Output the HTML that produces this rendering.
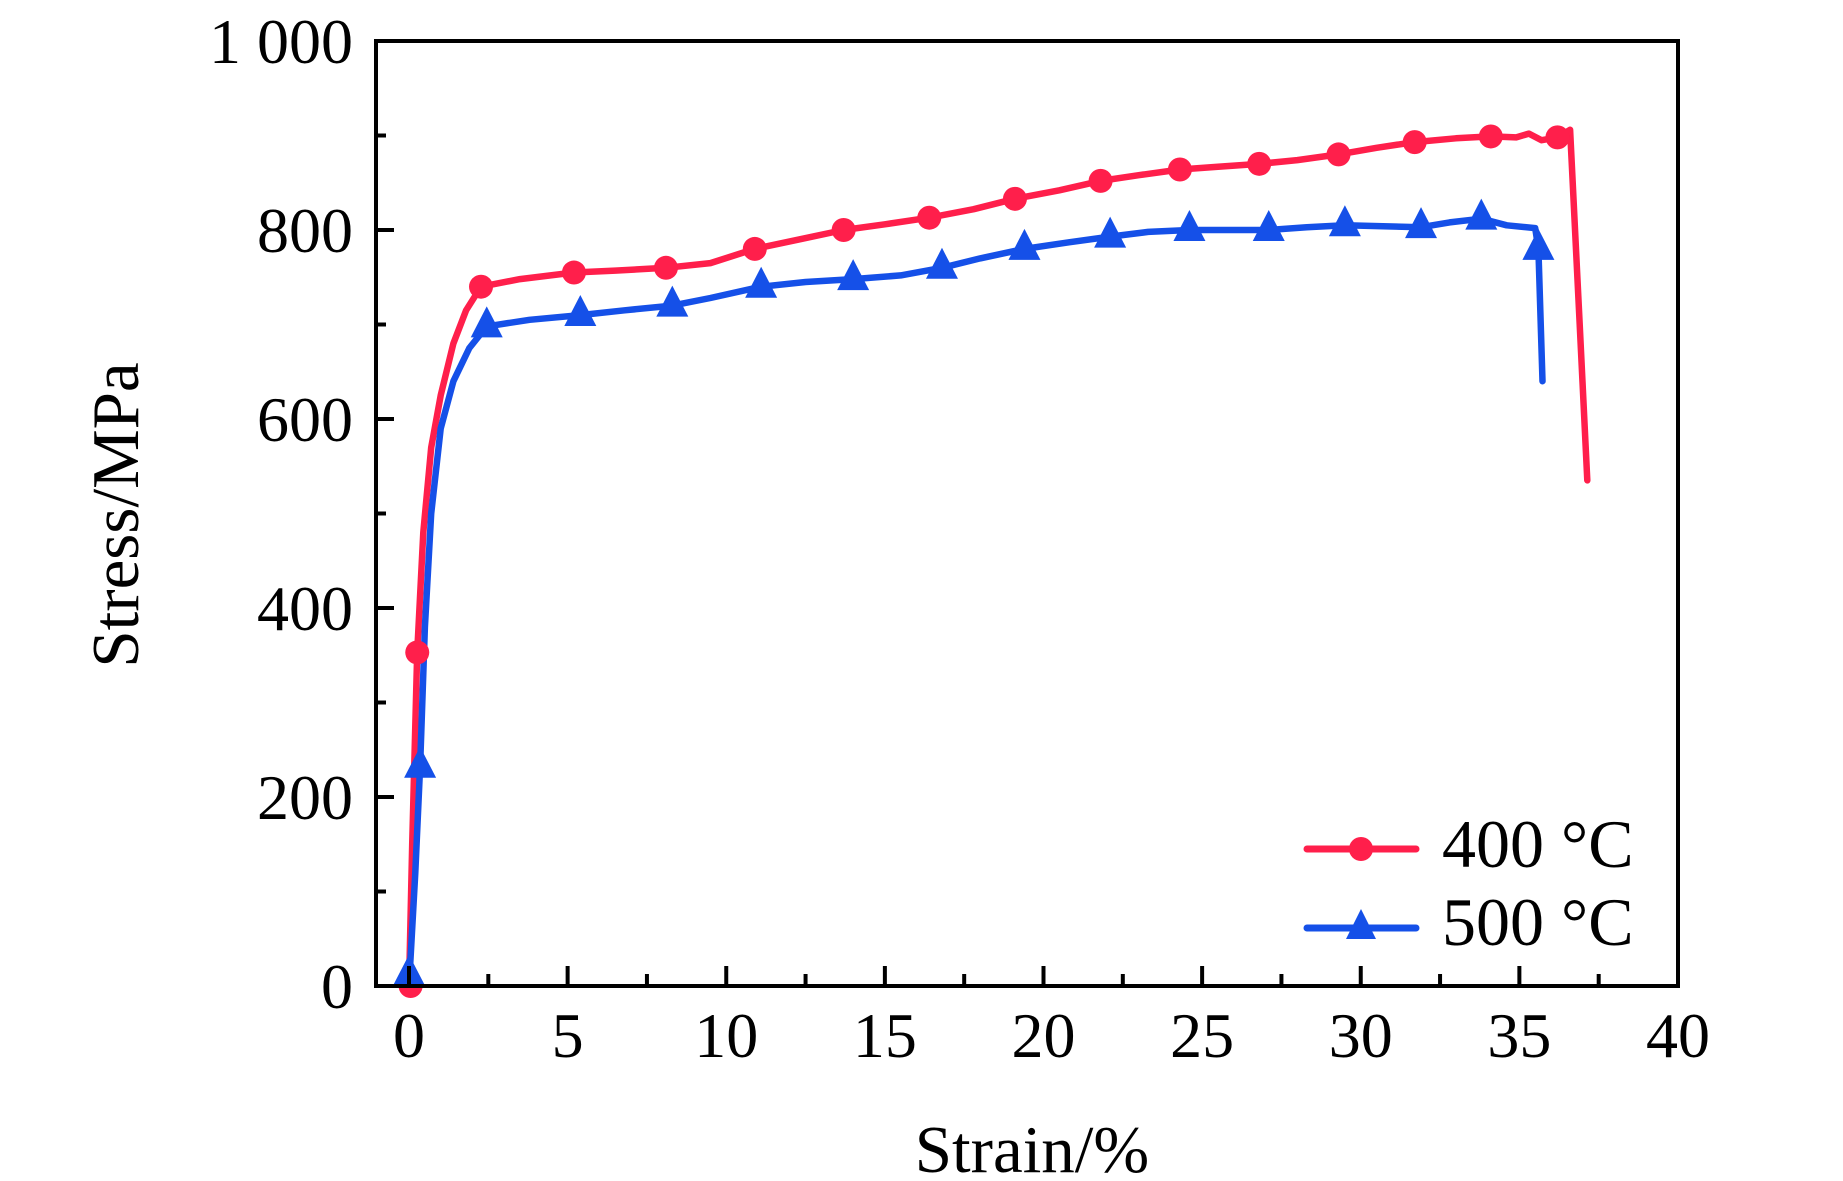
<!DOCTYPE html>
<html><head><meta charset="utf-8"><style>
html,body{margin:0;padding:0;background:#fff;}
svg{display:block;font-family:"Liberation Serif",serif;}
</style></head><body>
<svg id="chart" width="1843" height="1181" viewBox="0 0 1843 1181" xmlns="http://www.w3.org/2000/svg">
<g id="plot"></g>
</svg>
<script>
const xTicks = [0,5,10,15,20,25,30,35,40];
const yTicks = [0,200,400,600,800,1000];
const yTickLabels = ["0","200","400","600","800","1 000"];
const redX = [0,0.1,0.26,0.45,0.7,1.0,1.4,1.8,2.27,3.5,5.2,6.5,8.1,9.5,10.9,12.3,13.7,15.0,16.4,17.8,19.1,20.5,21.8,23.0,24.3,25.5,26.8,28.0,29.3,30.5,31.7,33.0,34.1,34.9,35.3,35.7,36.2,36.6,36.9,37.14];
const redY = [0,150,353,480,570,625,680,715,740,748,755,757,760,765,780,790,800,806,813,822,833,842,852,858,864,867,870,874,880,887,893,897,899,898,902,895,898,906,700,535];
const redMX = [0.05,0.26,2.27,5.2,8.1,10.9,13.7,16.4,19.1,21.8,24.3,26.8,29.3,31.7,34.1,36.2];
const redMY = [0,353,740,755,760,780,800,813,833,852,864,870,880,893,899,898];
const blueX = [0,0.2,0.35,0.5,0.7,1.0,1.4,1.9,2.45,3.8,5.4,6.8,8.3,9.5,11.1,12.5,14.0,15.5,16.8,18.0,19.4,20.8,22.1,23.3,24.6,25.8,27.1,28.3,29.5,30.7,31.9,32.8,33.8,34.6,35.5,35.6,35.73];
const blueY = [0,120,232,380,500,590,640,675,698,705,710,715,720,728,740,745,748,752,760,770,780,787,793,798,800,800,800,803,805,804,803,808,812,805,802,780,640];
const blueMX = [0.0,0.35,2.45,5.4,8.3,11.1,14.0,16.8,19.4,22.1,24.6,27.1,29.5,31.9,33.8,35.6];
const blueMY = [12,232,698,710,720,740,748,760,780,793,800,800,805,803,812,780];

const X0=376, X1=1678, Y0=986, Y1=41;
const xZero=409;
function sx(v){return xZero+(v/40)*(X1-xZero);}
function sy(v){return Y0-(v/1000)*(Y0-Y1);}
const NS="http://www.w3.org/2000/svg";
const g=document.getElementById('plot');
function mk(tag,attrs,parent){const e=document.createElementNS(NS,tag);for(const k in attrs)e.setAttribute(k,attrs[k]);(parent||g).appendChild(e);return e;}

function line(xs,ys,color,name){
  let d=xs.map((x,i)=>(i?'L':'M')+sx(x).toFixed(1)+','+sy(ys[i]).toFixed(1)).join(' ');
  const p=mk('path',{d:d,fill:'none',stroke:color,'stroke-width':6.5,'stroke-linejoin':'round','stroke-linecap':'round'});
  
  
}
line(redX,redY,'#FF1F4B','series-400c-line');
line(blueX,blueY,'#1550E8','series-500c-line');
redMX.forEach((x,i)=>{
  const c=mk('circle',{cx:sx(x),cy:sy(redMY[i]),r:12,fill:'#FF1F4B'});
  
  
});
blueMX.forEach((x,i)=>{
  const cx=sx(x),cy=sy(blueMY[i]);
  const t=mk('polygon',{points:`${cx},${cy-20} ${cx-16},${cy+11} ${cx+16},${cy+11}`,fill:'#1550E8'});
  
  
});

const fr=mk('rect',{x:X0,y:Y1,width:X1-X0,height:Y0-Y1,fill:'none',stroke:'#000','stroke-width':4});



xTicks.forEach((t,i)=>{
  const x=sx(t);
  if(t<40){const tk=mk('line',{x1:x,y1:Y0,x2:x,y2:Y0-20,stroke:'#000','stroke-width':4});
  
  }
  if(i<xTicks.length-1){const mx=sx(t+2.5);const m=mk('line',{x1:mx,y1:Y0,x2:mx,y2:Y0-12,stroke:'#000','stroke-width':4});
  
  }
  const lb=mk('text',{x:x,y:1057,'font-size':64,'text-anchor':'middle',fill:'#000'});
  lb.textContent=t;
  
  
});
yTicks.forEach((t,i)=>{
  const y=sy(t);
  if(t>0&&t<1000){const tk=mk('line',{x1:X0,y1:y,x2:X0+18,y2:y,stroke:'#000','stroke-width':4});
  
  }
  if(t<1000){const my=sy(t+100);const m=mk('line',{x1:X0,y1:my,x2:X0+10,y2:my,stroke:'#000','stroke-width':4});
  
  }
  const lb=mk('text',{x:353,y:y+22,'font-size':64,'text-anchor':'end',fill:'#000'});
  lb.textContent=yTickLabels[i];
  
  
});
const xt=mk('text',{x:1032,y:1172,'font-size':67,'text-anchor':'middle',fill:'#000'});
xt.textContent='Strain/%';


const yt=mk('text',{x:0,y:0,'font-size':67,'text-anchor':'middle',fill:'#000',transform:'translate(138,515) rotate(-90)'});
yt.textContent='Stress/MPa';



const lg=mk('g',{});


const l1=mk('line',{x1:1307,y1:849,x2:1416,y2:849,stroke:'#FF1F4B','stroke-width':7,'stroke-linecap':'round'},lg);


const c1=mk('circle',{cx:1361,cy:849,r:12,fill:'#FF1F4B'},lg);


const t1=mk('text',{x:1442,y:867,'font-size':68,fill:'#000'},lg);
t1.textContent='400 °C';


const l2=mk('line',{x1:1307,y1:928,x2:1416,y2:928,stroke:'#1550E8','stroke-width':7,'stroke-linecap':'round'},lg);


const p2=mk('polygon',{points:'1361,909 1346,939 1376,939',fill:'#1550E8'},lg);


const t2=mk('text',{x:1442,y:945,'font-size':68,fill:'#000'},lg);
t2.textContent='500 °C';


</script>
</body></html>
